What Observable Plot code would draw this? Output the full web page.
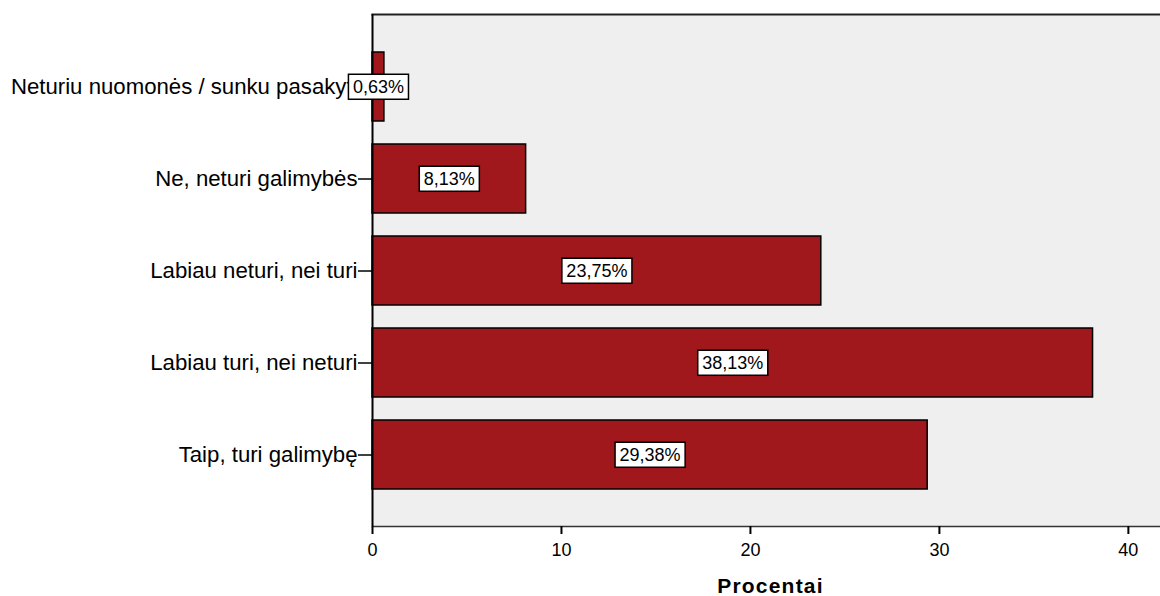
<!DOCTYPE html>
<html>
<head>
<meta charset="utf-8">
<script src="https://cdn.jsdelivr.net/npm/d3@7"></script>
<script src="https://cdn.jsdelivr.net/npm/@observablehq/plot@0.6"></script>
<style>
  html, body { margin: 0; padding: 0; background: #fff; }
  #chart svg { display: block; }
</style>
</head>
<body>
<div id="chart"></div>
<script>
// Answer categories, top to bottom
const categories = [
  "Neturiu nuomonės / sunku pasakyti",
  "Ne, neturi galimybės",
  "Labiau neturi, nei turi",
  "Labiau turi, nei neturi",
  "Taip, turi galimybę"
];
// Share of respondents, percent
const percents = [0.63, 8.13, 23.75, 38.13, 29.38];
const xTicks = [0, 10, 20, 30, 40];
const xLabel = "Procentai";

const rows = categories.map((c, i) => ({category: c, value: percents[i]}));
const fmt = v => v.toFixed(2).replace(".", ",") + "%";

const barColor = "#a0171c";

const chart = Plot.plot({
  width: 1160,
  height: 596,
  marginLeft: 372,
  marginRight: 0,
  marginTop: 14,
  marginBottom: 70,
  style: {fontFamily: "'Liberation Sans', Arial, sans-serif", color: "#000", background: "#fff"},
  x: {domain: [0, 41.7]},
  y: {domain: categories, paddingInner: 0.25, paddingOuter: 0.4},
  marks: [
    Plot.frame({fill: "#efefef", stroke: null}),
    Plot.frame({anchor: "bottom", stroke: "#333", strokeWidth: 1.5}),
    Plot.frame({anchor: "top", stroke: "#222", strokeWidth: 2}),
    Plot.axisY({tickSize: 14, tickPadding: 1, fontSize: 22.2, label: null, strokeWidth: 1.5}),
    Plot.axisX({ticks: xTicks, tickSize: 8, tickPadding: 9, fontSize: 18, label: null, strokeWidth: 2, tickFormat: d => String(d)}),
    Plot.barX(rows, {x: "value", y: "category", fill: barColor, stroke: "#000", strokeWidth: 1.5}),
    Plot.ruleX([0], {stroke: "#000", strokeWidth: 2}),
    Plot.text(rows, {
      x: d => d.value / 2,
      y: "category",
      text: d => fmt(d.value),
      fontSize: 18,
      fill: "#000",
      className: "vlabel"
    }),
    Plot.text([xLabel], {
      frameAnchor: "bottom",
      dx: 4,
      dy: 66,
      fontSize: 21,
      fontWeight: "bold",
      fill: "#000",
      className: "xtitle"
    })
  ]
});

document.getElementById("chart").appendChild(chart);

// Boxed value labels: white rectangle behind each label
chart.querySelectorAll(".vlabel text").forEach(t => {
  const bb = t.getBBox();
  const r = document.createElementNS("http://www.w3.org/2000/svg", "rect");
  r.setAttribute("x", bb.x - 4.5);
  r.setAttribute("y", bb.y - 2.5);
  r.setAttribute("width", bb.width + 9);
  r.setAttribute("height", bb.height + 5);
  r.setAttribute("fill", "#fff");
  r.setAttribute("stroke", "#000");
  r.setAttribute("stroke-width", 1.5);
  const tr = t.getAttribute("transform");
  if (tr) r.setAttribute("transform", tr);
  t.parentNode.insertBefore(r, t);
});
chart.querySelectorAll(".xtitle text").forEach(t => t.setAttribute("letter-spacing", "1.2"));
</script>
</body>
</html>
